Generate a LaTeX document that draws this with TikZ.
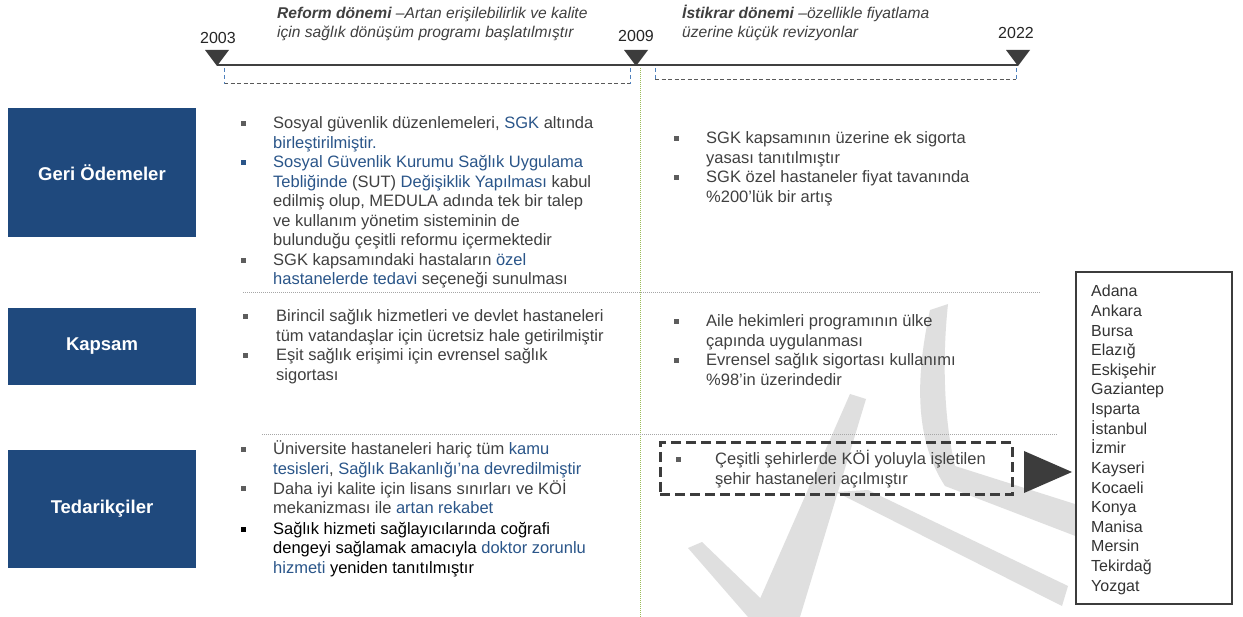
\documentclass[tikz,border=0pt]{standalone}
\usepackage{fontspec}
\setmainfont{Liberation Sans}
\usetikzlibrary{calc}
\definecolor{navy}{HTML}{1F497D}
\definecolor{ink}{HTML}{404040}
\definecolor{hlb}{HTML}{2A5589}
\definecolor{mark}{HTML}{3C3C3C}
\definecolor{rule}{HTML}{A6A6A6}
\definecolor{leaf}{HTML}{9BBB59}
\definecolor{tick}{HTML}{4F81BD}
\definecolor{wm}{HTML}{DFDFDF}
\newcommand\blu[1]{\textcolor{hlb}{#1}}

\begin{document}
\begin{tikzpicture}[x=1pt,y=-1pt,
  body/.style={anchor=base west, inner sep=0pt, text=ink, font=\fontsize{16.5}{19.5}\selectfont},
  cityname/.style={anchor=base west, inner sep=0pt, text=ink!80!black, font=\fontsize{16}{19}\selectfont},
  head/.style={anchor=base west, inner sep=0pt, text=ink, font=\fontsize{15.6}{18}\selectfont\itshape},
  year/.style={inner sep=0pt, text=black!85, font=\fontsize{16}{19}\selectfont},
  cat/.style={fill=navy, text=white, font=\fontsize{18.5}{21}\selectfont\bfseries, inner sep=0pt, minimum width=188pt},
  bul/.style={rectangle, fill=ink!85, minimum size=5pt, inner sep=0pt},
  hrule/.style={rule, line width=0.6pt, dash pattern=on 1pt off 1pt},
  vrule/.style={leaf, line width=1pt, dash pattern=on 1pt off 1pt},
  tl/.style={ink, line width=1.6pt},
  span/.style={black!65, line width=1pt, dash pattern=on 4pt off 2.5pt},
  spanend/.style={tick, line width=0.8pt, dash pattern=on 4pt off 3pt},
  marker/.style={fill=mark},
]
\useasboundingbox (0,0) rectangle (1243,617);
\fill[white] (0,0) rectangle (1243,617);

% light background emblem strokes
\fill[wm] (930,310) .. controls (915,380) and (915,440) .. (945,486)
  -- (1078,537) -- (1078,505) -- (955,466)
  .. controls (944,420) and (942,360) .. (948,304) -- cycle;
\fill[wm] (850,394) -- (866,399) -- (800,617) -- (752,617) -- cycle;
\fill[wm] (688,548) -- (702,542) -- (780,617) -- (748,617) -- cycle;
\fill[wm] (836,492) -- (868,490) -- (1068,586) -- (1062,606) -- cycle;

% timeline
\coordinate (t0) at (217,65);
\coordinate (t1) at (636,65);
\coordinate (t2) at (1018,65);
\draw[tl] (t0) -- (t2);
\foreach \p in {t0,t1,t2}
  \fill[marker] ($(\p)+(-12,-15)$) -- ($(\p)+(12,-15)$) -- ($(\p)+(0,1)$) -- cycle;
\node[year] (y0) at (218,38) {2003};
\node[year] (y1) at (636,36) {2009};
\node[year] (y2) at (1016,33) {2022};

% period spans
\coordinate (a0) at (224,68); \coordinate (a1) at (224,84);
\coordinate (a2) at (630,84); \coordinate (a3) at (630,68);
\coordinate (b0) at (655,68); \coordinate (b1) at (655,80);
\coordinate (b2) at (1016,80); \coordinate (b3) at (1016,68);
\draw[span] (a1) -- (a2);
\draw[spanend] (a0) -- (a1);
\draw[spanend] (a3) -- (a2);
\draw[span] (b1) -- (b2);
\draw[spanend] (b0) -- (b1);
\draw[spanend] (b3) -- (b2);

% period captions
\node[head] (h1) at (277,19) {\textbf{Reform dönemi} –Artan erişilebilirlik ve kalite};
\node[head] (h2) at (277,38) {için sağlık dönüşüm programı başlatılmıştır};
\node[head] (h3) at (682,19) {\textbf{İstikrar dönemi} –özellikle fiyatlama};
\node[head] (h4) at (682,38) {üzerine küçük revizyonlar};

% separators
\coordinate (g0) at (640,68); \coordinate (g1) at (640,617);
\draw[vrule] (g0) -- (g1);
\coordinate (r0) at (243,292); \coordinate (r1) at (1040,292);
\coordinate (r2) at (262,434); \coordinate (r3) at (1058,434);
\draw[hrule] (r0) -- (r1);
\draw[hrule] (r2) -- (r3);

% category boxes
\node[cat, minimum height=129pt] (c1) at (102,172.5) {Geri Ödemeler};
\node[cat, minimum height=77pt] (c2) at (102,346.5) {Kapsam};
\node[cat, minimum height=118pt] (c3) at (102,509) {Tedarikçiler};

% 2003-2009, payments
\foreach \yy/\words in {
  129/{Sosyal güvenlik düzenlemeleri, \blu{SGK} altında},
  148.5/{\blu{birleştirilmiştir.}},
  168/{\blu{Sosyal Güvenlik Kurumu Sağlık Uygulama}},
  187.5/{\blu{Tebliğinde} (SUT) \blu{Değişiklik Yapılması} kabul},
  207/{edilmiş olup, MEDULA adında tek bir talep},
  226.5/{ve kullanım yönetim sisteminin de},
  246/{bulunduğu çeşitli reformu içermektedir},
  265.5/{SGK kapsamındaki hastaların \blu{özel}},
  285/{\blu{hastanelerde tedavi} seçeneği sunulması}}
  \node[body] (pa\yy) at (273,\yy) {\words};
\node[bul] (pb1) at (243,124) {};
\node[bul, fill=hlb] (pb2) at (243,163) {};
\node[bul] (pb3) at (243,260.5) {};

% 2003-2009, coverage
\foreach \yy/\words in {
  322/{Birincil sağlık hizmetleri ve devlet hastaneleri},
  341.5/{tüm vatandaşlar için ücretsiz hale getirilmiştir},
  361/{Eşit sağlık erişimi için evrensel sağlık},
  380.5/{sigortası}}
  \node[body] (ka\yy) at (276,\yy) {\words};
\node[bul] (kb1) at (245,317) {};
\node[bul] (kb2) at (245,356) {};

% 2003-2009, providers
\foreach \yy/\words in {
  455/{Üniversite hastaneleri hariç tüm \blu{kamu}},
  474.5/{\blu{tesisleri}, \blu{Sağlık Bakanlığı’na devredilmiştir}},
  494/{Daha iyi kalite için lisans sınırları ve KÖİ},
  513.5/{mekanizması ile \blu{artan rekabet}},
  534/{\textcolor{black}{Sağlık hizmeti sağlayıcılarında coğrafi}},
  553.5/{\textcolor{black}{dengeyi sağlamak amacıyla} \blu{doktor zorunlu}},
  573/{\blu{hizmeti} \textcolor{black}{yeniden tanıtılmıştır}}}
  \node[body] (ta\yy) at (273,\yy) {\words};
\node[bul] (tb1) at (243,450) {};
\node[bul] (tb2) at (243,489) {};
\node[bul, fill=black] (tb3) at (243,529) {};

% 2009-2022, payments
\foreach \yy/\words in {
  144/{SGK kapsamının üzerine ek sigorta},
  163.5/{yasası tanıtılmıştır},
  183/{SGK özel hastaneler fiyat tavanında},
  202.5/{\%200’lük bir artış}}
  \node[body] (pr\yy) at (706,\yy) {\words};
\node[bul] (qb1) at (676,139) {};
\node[bul] (qb2) at (676,178) {};

% 2009-2022, coverage
\foreach \yy/\words in {
  327/{Aile hekimleri programının ülke},
  346.5/{çapında uygulanması},
  366/{Evrensel sağlık sigortası kullanımı},
  385.5/{\%98’in üzerindedir}}
  \node[body] (kr\yy) at (706,\yy) {\words};
\node[bul] (lb1) at (676,322) {};
\node[bul] (lb2) at (676,361) {};

% 2009-2022, providers
\node[draw=mark, line width=3pt, dash pattern=on 10pt off 5pt,
  minimum width=352pt, minimum height=52pt, inner sep=0pt] (kbox) at (836,469) {};
\node[body] (tr1) at (715,465) {Çeşitli şehirlerde KÖİ yoluyla işletilen};
\node[body] (tr2) at (715,484.5) {şehir hastaneleri açılmıştır};
\node[bul] (mb1) at (678,460) {};

% city list
\node[draw=mark, line width=2.5pt, fill=white, minimum width=156pt,
  minimum height=332pt, inner sep=0pt] (cities) at (1154,438) {};
\foreach \nm [count=\i from 0] in {Adana,Ankara,Bursa,Elazığ,Eskişehir,Gaziantep,Isparta,İstanbul,İzmir,Kayseri,Kocaeli,Konya,Manisa,Mersin,Tekirdağ,Yozgat}
  \node[cityname] (city\i) at (1091,297+19.6*\i) {\nm};

% pointer from the box to the list
\coordinate (p0) at (1024,451);
\coordinate (p1) at (1072,472);
\coordinate (p2) at (1024,493);
\fill[marker] (p0) -- (p1) -- (p2) -- cycle;
\end{tikzpicture}
\end{document}
